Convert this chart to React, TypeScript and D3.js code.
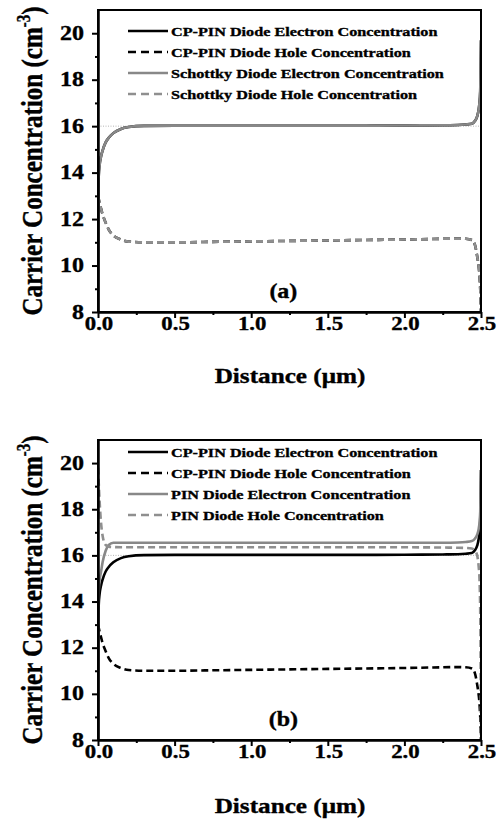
import { axisBottom, axisLeft, curveMonotoneX, line, scaleLinear, select } from "d3";
import { useEffect, useRef } from "react";

// distance along the device (µm), denser near both contacts
const distance = [
  0, 0.002, 0.005, 0.01, 0.02, 0.03, 0.05, 0.07, 0.1, 0.15, 0.2, 0.3, 0.5, 0.75, 1.0,
  1.25, 1.5, 1.75, 2.0, 2.25, 2.35, 2.4, 2.44, 2.46, 2.475, 2.485, 2.49, 2.495, 2.5,
];

// log10 carrier concentration
const cpPinElectron = [
  8, 13.3, 13.9, 14.3, 14.7, 14.95, 15.3, 15.5, 15.7, 15.88, 15.96, 16.01, 16.02, 16.02, 16.02,
  16.02, 16.02, 16.02, 16.03, 16.04, 16.05, 16.07, 16.1, 16.22, 16.42, 16.72, 17.0, 17.5, 19.7,
];
const cpPinHole = [
  13.0, 12.95, 12.85, 12.7, 12.45, 12.2, 11.85, 11.55, 11.3, 11.12, 11.03, 11.0, 11.0, 11.02, 11.04,
  11.06, 11.08, 11.1, 11.12, 11.15, 11.16, 11.15, 11.1, 10.9, 10.4, 9.95, 9.6, 9.0, 8.0,
];
const schottkyElectron = [
  8, 13.3, 13.9, 14.3, 14.7, 14.95, 15.3, 15.5, 15.7, 15.88, 15.96, 16.01, 16.02, 16.02, 16.02,
  16.02, 16.02, 16.02, 16.03, 16.04, 16.05, 16.07, 16.1, 16.22, 16.42, 16.72, 17.0, 17.5, 19.7,
];
const schottkyHole = [
  13.0, 12.95, 12.85, 12.7, 12.45, 12.2, 11.85, 11.55, 11.3, 11.12, 11.03, 11.0, 11.0, 11.02, 11.04,
  11.06, 11.08, 11.1, 11.12, 11.15, 11.16, 11.15, 11.1, 10.9, 10.4, 9.95, 9.6, 9.0, 8.0,
];
const pinElectron = [
  8, 14.0, 14.5, 14.9, 15.3, 15.7, 16.2, 16.45, 16.55, 16.55, 16.55, 16.55, 16.55, 16.55, 16.55,
  16.55, 16.55, 16.55, 16.55, 16.55, 16.56, 16.58, 16.62, 16.72, 16.9, 17.15, 17.4, 17.9, 19.7,
];
const pinHole = [
  19.8, 19.6, 19.1, 18.4, 17.4, 16.85, 16.45, 16.38, 16.36, 16.35, 16.35, 16.35, 16.35, 16.35, 16.35,
  16.35, 16.35, 16.35, 16.35, 16.34, 16.33, 16.32, 16.3, 16.22, 16.0, 15.5, 15.0, 13.5, 8.0,
];

const refLevel = 16;
const yTicks = [8, 10, 12, 14, 16, 18, 20];
const yMinor = [9, 11, 13, 15, 17, 19];
const xTicks = [0, 0.5, 1.0, 1.5, 2.0, 2.5];
const xMinor = [0.25, 0.75, 1.25, 1.75, 2.25];

const panelA = [
  { name: "CP-PIN Diode Electron Concentration", values: cpPinElectron, color: "#000", dashed: false },
  { name: "CP-PIN Diode Hole Concentration", values: cpPinHole, color: "#000", dashed: true },
  { name: "Schottky Diode Electron Concentration", values: schottkyElectron, color: "#888", dashed: false },
  { name: "Schottky Diode Hole Concentration", values: schottkyHole, color: "#8f8f8f", dashed: true },
];
const panelB = [
  { name: "CP-PIN Diode Electron Concentration", values: cpPinElectron, color: "#000", dashed: false },
  { name: "CP-PIN Diode Hole Concentration", values: cpPinHole, color: "#000", dashed: true },
  { name: "PIN Diode Electron Concentration", values: pinElectron, color: "#888", dashed: false },
  { name: "PIN Diode Hole Concentration", values: pinHole, color: "#8f8f8f", dashed: true },
];

const FONT = "Liberation Serif, Times New Roman, serif";
const SX = 1.2; // the source figure is stretched horizontally

function Chart() {
  const svgRef = useRef(null);

  useEffect(() => {
    const svg = select(svgRef.current);
    svg.selectAll("*").remove();

    const left = 98;
    const right = 481;

    const layouts = [
      { series: panelA, label: "(a)", top: 10, bottom: 312, legendTop: 31, titleY: 383 },
      { series: panelB, label: "(b)", top: 440, bottom: 740, legendTop: 452, titleY: 813 },
    ];

    layouts.forEach((p, pi) => {
      const x = scaleLinear().domain([0, 2.5]).range([left, right]);
      const y = scaleLinear().domain([8, 21]).range([p.bottom, p.top]);
      const g = svg.append("g");

      const txt = (tx: number, ty: number, s: string, size: number, anchor: string) =>
        g
          .append("text")
          .attr("transform", `translate(${tx},${ty}) scale(${SX},1)`)
          .attr("text-anchor", anchor)
          .attr("font-family", FONT)
          .attr("font-weight", 700)
          .attr("font-size", size)
          .attr("fill", "#000")
          .attr("stroke", "#000")
          .attr("stroke-width", 0.35)
          .text(s);

      g.append("clipPath")
        .attr("id", `clip-${pi}`)
        .append("rect")
        .attr("x", left)
        .attr("y", p.top)
        .attr("width", right - left)
        .attr("height", p.bottom - p.top);

      const plot = g.append("g").attr("clip-path", `url(#clip-${pi})`);

      // faint dotted reference at 16
      plot
        .append("line")
        .attr("x1", x(0))
        .attr("x2", x(2.5))
        .attr("y1", y(refLevel))
        .attr("y2", y(refLevel))
        .attr("stroke", "#b5b5b5")
        .attr("stroke-width", 1)
        .attr("stroke-dasharray", "1,1.5");

      const myLine = line<number>()
        .x((_, i) => x(distance[i]))
        .y((d) => y(d))
        .curve(curveMonotoneX);

      p.series.forEach((s) => {
        plot
          .append("path")
          .attr("d", myLine(s.values))
          .attr("fill", "none")
          .attr("stroke", s.color)
          .attr("stroke-width", 2.6)
          .attr("stroke-dasharray", s.dashed ? "7,4" : null);
      });

      // axes
      const yAxis: any = axisLeft(y).tickValues(yTicks).tickSize(6).tickSizeOuter(0).tickFormat(() => "");
      const yAxisMinor: any = axisLeft(y).tickValues(yMinor).tickSize(3).tickSizeOuter(0).tickFormat(() => "");
      const xAxis: any = axisBottom(x).tickValues(xTicks).tickSize(6).tickSizeOuter(0).tickFormat(() => "");
      const xAxisMinor: any = axisBottom(x).tickValues(xMinor).tickSize(3).tickSizeOuter(0).tickFormat(() => "");

      [yAxis, yAxisMinor].forEach((a) => {
        const ga = g.append("g").attr("transform", `translate(${left},0)`).call(a);
        ga.selectAll("line").attr("stroke-width", 2);
        ga.select(".domain").attr("stroke-width", 2);
      });
      [xAxis, xAxisMinor].forEach((a) => {
        const ga = g.append("g").attr("transform", `translate(0,${p.bottom})`).call(a);
        ga.selectAll("line").attr("stroke-width", 2);
        ga.select(".domain").attr("stroke-width", 2);
      });

      // frame
      g.append("rect")
        .attr("x", left)
        .attr("y", p.top)
        .attr("width", right - left)
        .attr("height", p.bottom - p.top)
        .attr("fill", "none")
        .attr("stroke", "#000")
        .attr("stroke-width", 2);

      yTicks.forEach((t) => txt(84, y(t) + 6.5, String(t), 20, "end"));
      xTicks.forEach((t) => txt(x(t) + 1, p.bottom + 18, t.toFixed(1), 19, "middle"));

      txt(290, p.titleY, "Distance (\u03bcm)", 21, "middle");
      txt(x(1.21), y(8.6), p.label, 20, "middle");

      // y title
      const yt = g
        .append("text")
        .attr("transform", `translate(42,${(p.top + p.bottom) / 2}) scale(${SX},1) rotate(-90)`)
        .attr("text-anchor", "middle")
        .attr("font-family", FONT)
        .attr("font-weight", 700)
        .attr("font-size", 25)
        .attr("stroke", "#000")
        .attr("stroke-width", 0.35)
        .text("Carrier Concentration (cm");
      yt.append("tspan").attr("font-size", 15).attr("dy", -10).text("-3");
      yt.append("tspan").attr("dy", 10).text(")");

      // legend
      p.series.forEach((s, i) => {
        const ry = p.legendTop + i * 21;
        g.append("line")
          .attr("x1", 128)
          .attr("x2", 168)
          .attr("y1", ry)
          .attr("y2", ry)
          .attr("stroke", s.color)
          .attr("stroke-width", 2.6)
          .attr("stroke-dasharray", s.dashed ? "8,5" : null);
        txt(171, ry + 5, s.name, 13.5, "start");
      });
    });
  }, []);

  return (
    <svg
      ref={svgRef}
      width={501}
      height={821}
      style={{ position: "absolute", left: 0, top: 0, background: "#fff" }}
    ></svg>
  );
}

export default function App() {
  return <Chart />;
}
